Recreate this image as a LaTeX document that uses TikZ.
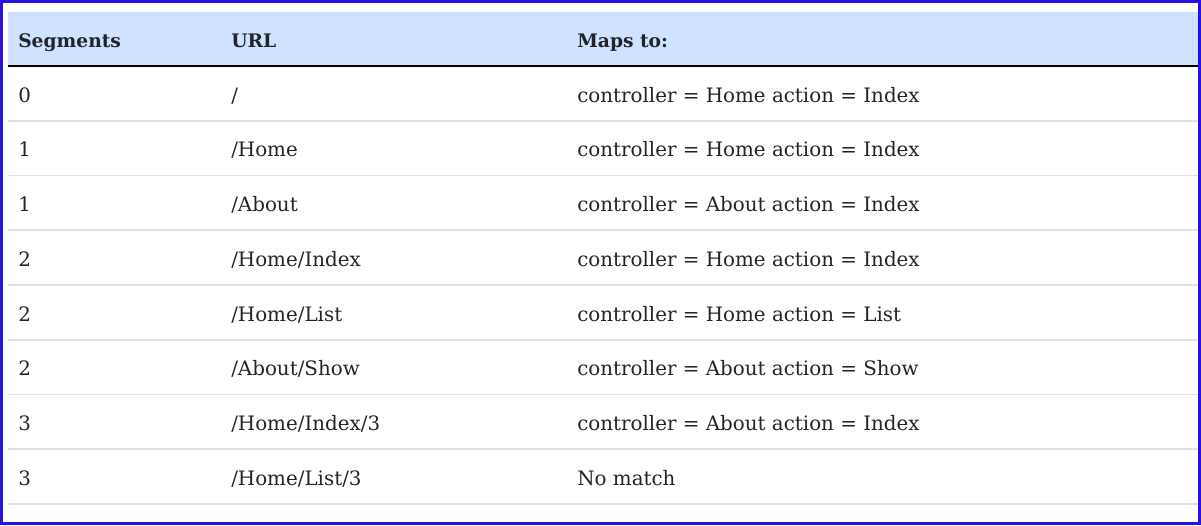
\documentclass[tikz,border=0pt]{standalone}
\usepackage{fontspec}
\setmainfont{DejaVu Serif}
\usepackage{xcolor}
\usetikzlibrary{positioning}
\definecolor{frameblue}{RGB}{38,18,228}
\definecolor{headfill}{RGB}{207,226,255}
\definecolor{rulegray}{RGB}{222,226,230}
\definecolor{textdark}{RGB}{33,37,41}
\begin{document}
\begin{tikzpicture}[x=0.75pt, y=-0.75pt]
    \tikzstyle{cell} = [anchor=base west, inner sep=0pt, text=textdark, font=\fontsize{14.9}{18}\selectfont]
    \tikzstyle{head} = [cell, font=\fontsize{14}{17}\selectfont\bfseries]
    \tikzstyle{rowline} = [draw=rulegray, line width=1.2pt]
    \useasboundingbox (0,0) rectangle (1201,525);

    % Header
    \fill [headfill] (8,12) rectangle (1199,66);
    \node [head] (hseg) at (18,47) {Segments};
    \node [head] (hurl) at (231,47) {URL};
    \node [head] (hmap) at (577,47) {Maps to:};
    \draw [black, line width=1pt] (8,66) -- (1199,66);

    % Rows
    \foreach \i/\seg/\url/\map in {
        1/0/{/}/{controller = Home action = Index},
        2/1/{/Home}/{controller = Home action = Index},
        3/1/{/About}/{controller = About action = Index},
        4/2/{/Home/Index}/{controller = Home action = Index},
        5/2/{/Home/List}/{controller = Home action = List},
        6/2/{/About/Show}/{controller = About action = Show},
        7/3/{/Home/Index/3}/{controller = About action = Index},
        8/3/{/Home/List/3}/{No match}} {
        \pgfmathsetmacro{\ybase}{102+54.75*(\i-1)}
        \pgfmathsetmacro{\yline}{66+54.75*\i}
        \node [cell] (seg\i) at (18,\ybase) {\seg};
        \node [cell] (url\i) at (231,\ybase) {\url};
        \node [cell] (map\i) at (577,\ybase) {\map};
        \draw [rowline] (8,\yline) -- (1199,\yline);
    }

    % Frame
    \draw [frameblue, line width=1.9pt] (1.3,1.3) rectangle (1199.7,523.7);
\end{tikzpicture}
\end{document}
